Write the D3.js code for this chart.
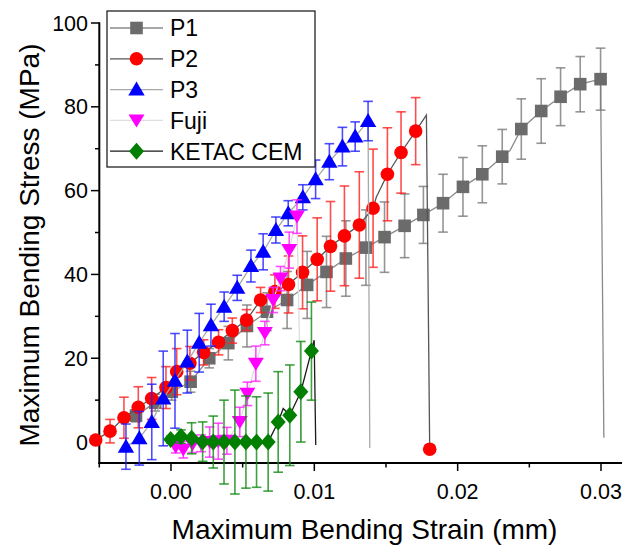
<!DOCTYPE html>
<html>
<head>
<meta charset="utf-8">
<script src="https://cdn.jsdelivr.net/npm/d3@7"></script>
<style>
html,body{margin:0;padding:0;background:#fff;}
svg{display:block;font-family:"Liberation Sans",Arial,sans-serif;}
</style>
</head>
<body>
<svg id="chart" width="622" height="546"></svg>
<script>
// ---------- data ----------
const seriesNames = ["P1", "P2", "P3", "Fuji", "KETAC CEM"];

const p1X = [-0.00244,-0.0011,0.00005,0.00137,0.00267,0.0040,0.0053,0.0067,0.0081,0.0095,0.01085,0.0122,0.0136,0.0149,0.0163,0.01761,0.01898,0.02037,0.02172,0.02311,0.02444,0.02583,0.02718,0.02855,0.02997];
const p1Y = [6.3,9.4,12.0,14.4,20.0,23.6,27.7,31.1,33.9,37.5,40.6,43.8,46.4,48.9,51.6,54.2,57.0,60.9,63.9,68.1,74.7,79.0,82.4,85.4,86.6];
const p1Err = [1.5,2,2,2.5,2.3,4,5,4.5,6.8,8,8.5,9,9,8.4,7.6,6.8,6.9,7,6.8,6.5,7.2,7.7,6.9,6.6,7.4];
const p1KinkX = [0.02366], p1KinkY = [69.6];
const p1EndX = [0.0302], p1EndY = [1.0];

const p2X = [-0.00525,-0.00425,-0.00328,-0.00228,-0.00135,-0.00035,0.0004,0.00132,0.00228,0.00332,0.00428,0.00527,0.00625,0.00725,0.0082,0.00918,0.0102,0.01113,0.0121,0.01314,0.0141,0.0151,0.01605,0.01707,0.01805];
const p2Y = [0.5,2.6,5.8,8.3,10.4,13.0,16.8,18.8,21.4,23.8,26.6,29.1,33.9,35.9,37.6,40.5,43.6,46.7,49.2,51.8,55.8,63.9,69.1,74.2,-1.7];
const p2Err = [0,2.8,4.9,4.9,5,5,5.5,4,3,3,3,2.5,3,4,6.8,8.7,9.9,10.7,11.9,12.7,14.1,11.1,9.7,8,0];
const p2KinkX = [0.01433], p2KinkY = [58.5];
const p2PeakX = [0.01782], p2PeakY = [78.0];

const p3X = [-0.00314,-0.00221,-0.00134,-0.00054,0.00028,0.00114,0.00197,0.00279,0.00371,0.00462,0.00558,0.00643,0.00732,0.00818,0.0092,0.01009,0.01105,0.01196,0.01285,0.01375];
const p3Y = [-1.1,0.9,4.8,10.4,14.6,19.2,23.7,27.9,32.3,36.8,42.0,45.4,50.6,54.6,58.4,62.7,66.9,70.5,72.9,76.6];
const p3Err = [5.4,6.4,9,11.3,11.3,7.5,7,5,3.5,3,3.8,4.3,3.1,3,3,4.6,4.3,4.6,3.5,4.7];
const p3EndX = [0.01387], p3EndY = [-1.4];

const fujiX = [0.00033,0.00086,0.0015,0.0021,0.0027,0.0033,0.0039,0.0048,0.00533,0.00592,0.00655,0.00713,0.00764,0.00825,0.00879];
const fujiY = [-1.1,-1.8,-0.5,-0.3,0.0,0.2,0.3,4.8,11.5,18.7,26.0,33.9,39.0,45.8,53.8];
const fujiErr = [1.5,2,2,2,3.6,4.3,3.2,3.5,2.8,4.2,2.8,3,2.9,4.3,4];
const fujiEndX = [0.0091], fujiEndY = [0.0];

const ketacX = [-0.00002,0.0007,0.00144,0.00221,0.00295,0.0037,0.00446,0.00523,0.00597,0.00678,0.00748,0.00829,0.00906,0.0098];
const ketacY = [0.6,1.3,0.9,0.1,0.0,0.0,0.0,0.0,0.0,0.0,4.8,6.4,12.0,21.7];
const ketacErr = [0.8,1.6,3.7,4.7,6.2,10,12.4,11,10.8,11.7,12,12,12,11.7];
const ketacBumpX = [0.00783], ketacBumpY = [8.0];
const ketacPeakX = [0.00999], ketacPeakY = [24.3];
const ketacEndX = [0.0101], ketacEndY = [-0.7];

const xTicks = [0.00, 0.01, 0.02, 0.03];
const xTickLabels = ["0.00", "0.01", "0.02", "0.03"];
const xMinorTicks = [-0.005, 0.005, 0.015, 0.025];
const yTicks = [0, 20, 40, 60, 80, 100];
const yMinorTicks = [10, 30, 50, 70, 90];

// ---------- build series ----------
const zip = (xs, ys) => xs.map((x, i) => [x, ys[i]]);
const byX = (a, b) => a[0] - b[0];
const series = [
  {name: seriesNames[0], pts: zip(p1X, p1Y), err: p1Err,
   line: zip(p1X, p1Y).concat(zip(p1KinkX, p1KinkY)).sort(byX).concat(zip(p1EndX, p1EndY)),
   shape: "square", fill: "#6b6b6b", errColor: "#7a7a7a", lineColor: "#8a8a8a"},
  {name: seriesNames[1], pts: zip(p2X, p2Y), err: p2Err,
   line: zip(p2X.slice(0, -1), p2Y.slice(0, -1)).concat(zip(p2KinkX, p2KinkY)).sort(byX)
     .concat(zip(p2PeakX, p2PeakY)).concat([[p2X[p2X.length-1], p2Y[p2Y.length-1]]]),
   shape: "circle", fill: "#ff0000", errColor: "#ff2020", lineColor: "#555555"},
  {name: seriesNames[2], pts: zip(p3X, p3Y), err: p3Err,
   line: zip(p3X, p3Y).concat(zip(p3EndX, p3EndY)),
   shape: "triangle", fill: "#0000ff", errColor: "#2020ff", lineColor: "#a8a8a8"},
  {name: seriesNames[3], pts: zip(fujiX, fujiY), err: fujiErr,
   line: zip(fujiX, fujiY).concat(zip(fujiEndX, fujiEndY)),
   shape: "down", fill: "#ff00ff", errColor: "#ff20ff", lineColor: "#dedede"},
  {name: seriesNames[4], pts: zip(ketacX, ketacY), err: ketacErr,
   line: zip(ketacX, ketacY).concat(zip(ketacBumpX, ketacBumpY)).sort(byX)
     .concat(zip(ketacPeakX, ketacPeakY)).concat(zip(ketacEndX, ketacEndY)),
   shape: "diamond", fill: "#007f00", errColor: "#108a10", lineColor: "#1a1a1a"}
];

// ---------- scales ----------
const svg = d3.select("#chart");
const x = d3.scaleLinear().domain([-0.005, 0.0315]).range([99.3, 622.5]);
const y = d3.scaleLinear().domain([-5, 100]).range([463, 23]);

function shapePath(shape) {
  switch (shape) {
    case "square": return "M-6.3,-6.3H6.3V6.3H-6.3Z";
    case "circle": return d3.symbol(d3.symbolCircle, 145)();
    case "triangle": return "M0,-8L8.2,6L-8.2,6Z";
    case "down": return "M0,7L8,-6L-8,-6Z";
    case "diamond": return "M0,-8.5L7.5,0L0,8.5L-7.5,0Z";
  }
}

// ---------- axes ----------
const axisG = svg.append("g");
axisG.append("line").attr("x1", 98.3).attr("x2", 622).attr("y1", y(-5)).attr("y2", y(-5))
  .attr("stroke", "#000").attr("stroke-width", 2);
axisG.selectAll(".xt").data(xTicks).join("line")
  .attr("x1", d => x(d)).attr("x2", d => x(d)).attr("y1", 463).attr("y2", 471)
  .attr("stroke", "#000").attr("stroke-width", 1.5);
axisG.selectAll(".xm").data(xMinorTicks).join("line")
  .attr("x1", d => x(d)).attr("x2", d => x(d)).attr("y1", 463).attr("y2", 467.5)
  .attr("stroke", "#000").attr("stroke-width", 1.5);
axisG.selectAll(".xl").data(xTicks).join("text")
  .attr("x", d => x(d)).attr("y", 499).attr("text-anchor", "middle")
  .attr("font-size", 21.5).attr("fill", "#000").text((d, i) => xTickLabels[i]);
axisG.append("line").attr("x1", 99.3).attr("x2", 99.3).attr("y1", 22.3).attr("y2", 464)
  .attr("stroke", "#000").attr("stroke-width", 2);
axisG.selectAll(".yt").data(yTicks).join("line")
  .attr("x1", 91).attr("x2", 99.3).attr("y1", d => y(d)).attr("y2", d => y(d))
  .attr("stroke", "#000").attr("stroke-width", 1.5);
axisG.selectAll(".ym").data(yMinorTicks).join("line")
  .attr("x1", 95).attr("x2", 99.3).attr("y1", d => y(d)).attr("y2", d => y(d))
  .attr("stroke", "#000").attr("stroke-width", 1.5);
axisG.selectAll(".yl").data(yTicks).join("text")
  .attr("x", 88).attr("y", d => y(d) + 7.5).attr("text-anchor", "end")
  .attr("font-size", 21.5).attr("fill", "#000").text(d => d);

svg.append("text").attr("x", 364.5).attr("y", 539).attr("text-anchor", "middle")
  .attr("font-size", 28).attr("fill", "#000").text("Maximum Bending Strain (mm)");
svg.append("text").attr("transform", "translate(38.5,245) rotate(-90)").attr("text-anchor", "middle")
  .attr("font-size", 28).attr("fill", "#000").text("Maximum Bending Stress (MPa)");

// ---------- plot ----------
const line = d3.line().x(d => x(d[0])).y(d => y(d[1]));
series.forEach(s => {
  const g = svg.append("g");
  g.append("path").attr("d", line(s.line)).attr("fill", "none")
    .attr("stroke", s.lineColor).attr("stroke-width", 1.3);
  const eb = g.selectAll(".eb").data(s.pts.map((p, i) => ({p, e: s.err[i]})).filter(d => d.e > 0))
    .join("g").attr("stroke", s.errColor).attr("stroke-width", 1.6).attr("stroke-opacity", 0.8);
  eb.append("line").attr("x1", d => x(d.p[0])).attr("x2", d => x(d.p[0]))
    .attr("y1", d => y(d.p[1] + d.e)).attr("y2", d => y(d.p[1] - d.e));
  eb.append("line").attr("x1", d => x(d.p[0]) - 4.8).attr("x2", d => x(d.p[0]) + 4.8)
    .attr("y1", d => y(d.p[1] + d.e)).attr("y2", d => y(d.p[1] + d.e));
  eb.append("line").attr("x1", d => x(d.p[0]) - 4.8).attr("x2", d => x(d.p[0]) + 4.8)
    .attr("y1", d => y(d.p[1] - d.e)).attr("y2", d => y(d.p[1] - d.e));
  g.selectAll(".mk").data(s.pts).join("path")
    .attr("d", shapePath(s.shape))
    .attr("transform", d => `translate(${x(d[0])},${y(d[1])})`)
    .attr("fill", s.fill).attr("stroke", "none");
});

// ---------- legend ----------
const lg = svg.append("g");
lg.append("rect").attr("x", 107).attr("y", 11).attr("width", 208).attr("height", 156)
  .attr("fill", "#fff").attr("stroke", "#222").attr("stroke-width", 1.3);
series.forEach((s, i) => {
  const cy = 28 + i * 30.8;
  lg.append("line").attr("x1", 110).attr("x2", 163).attr("y1", cy).attr("y2", cy)
    .attr("stroke", s.lineColor).attr("stroke-width", 1.3);
  lg.append("path").attr("d", shapePath(s.shape)).attr("transform", `translate(136.5,${cy})`)
    .attr("fill", s.fill);
  lg.append("text").attr("x", 170).attr("y", cy + 8.3).attr("font-size", 23)
    .attr("fill", "#000").text(s.name);
});
</script>
</body>
</html>
